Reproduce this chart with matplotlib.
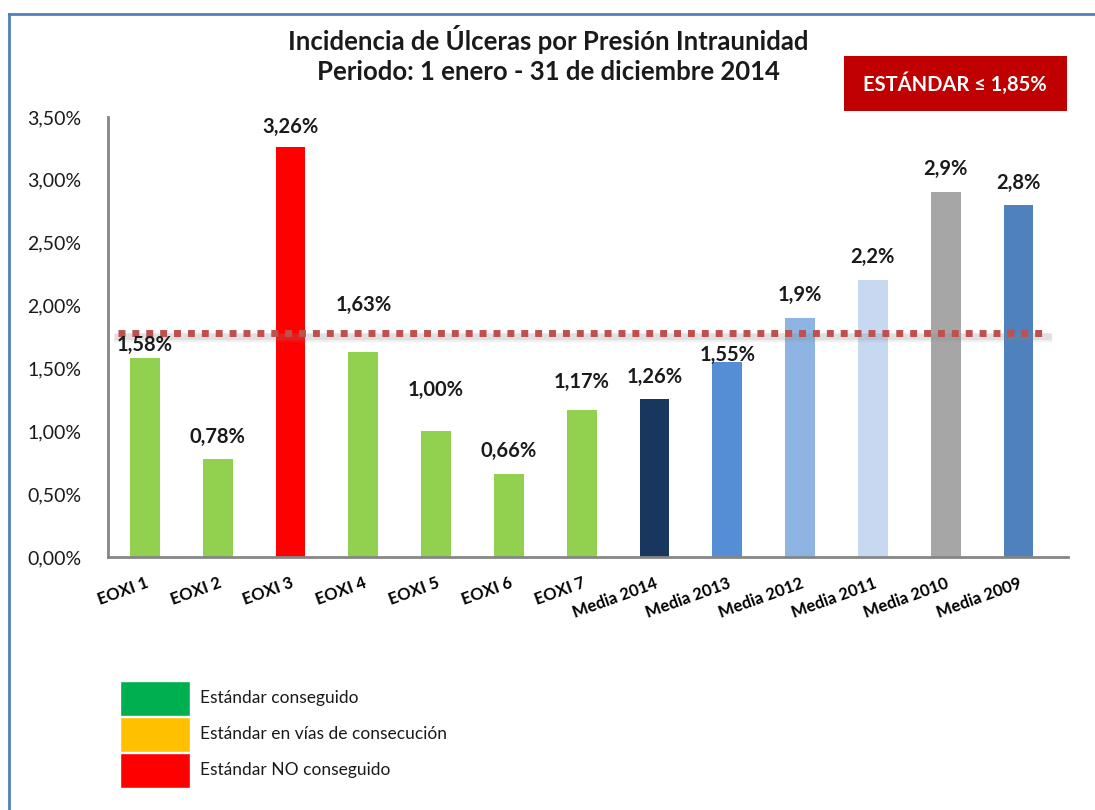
import matplotlib
matplotlib.use('Agg')
import matplotlib.pyplot as plt
from matplotlib.patches import Rectangle
from matplotlib.lines import Line2D

plt.rcParams['font.family'] = ['Lato', 'DejaVu Sans']

# datos
categorias = ['EOXI 1', 'EOXI 2', 'EOXI 3', 'EOXI 4', 'EOXI 5', 'EOXI 6', 'EOXI 7',
              'Media 2014', 'Media 2013', 'Media 2012', 'Media 2011', 'Media 2010', 'Media 2009']
valores = [1.58, 0.78, 3.26, 1.63, 1.00, 0.66, 1.17, 1.26, 1.55, 1.9, 2.2, 2.9, 2.8]
etiquetas = ['1,58%', '0,78%', '3,26%', '1,63%', '1,00%', '0,66%', '1,17%',
             '1,26%', '1,55%', '1,9%', '2,2%', '2,9%', '2,8%']
colores = ['#92D050', '#92D050', '#FF0000', '#92D050', '#92D050', '#92D050', '#92D050',
           '#17375E', '#558ED5', '#8EB4E3', '#C6D9F1', '#A6A6A6', '#4F81BD']
estandar_linea = 1.78
yticks = [0, 0.5, 1.0, 1.5, 2.0, 2.5, 3.0, 3.5]
ytick_labels = ['0,00%', '0,50%', '1,00%', '1,50%', '2,00%', '2,50%', '3,00%', '3,50%']
leyenda_txt = ['Estándar conseguido', 'Estándar en vías de consecución', 'Estándar NO conseguido']
leyenda_col = ['#00B050', '#FFC000', '#FF0000']

# separacion (px) de cada etiqueta sobre su barra, como en el original
sep_etiqueta = [13, 22, 20, 47, 41, 23, 28, 22, 7, 23, 23, 23, 22]

W, H = 1095, 810
fig = plt.figure(figsize=(W / 100, H / 100), dpi=100)
ax = fig.add_axes([108 / W, 1 - 557 / H, 960 / W, 440 / H])

x = list(range(len(categorias)))
ax.bar(x, valores, width=0.41, color=colores, zorder=2)

for xi, v, t, d in zip(x, valores, etiquetas, sep_etiqueta):
    ax.annotate(t, (xi, v), xytext=(0, d * 0.72), textcoords='offset points',
                ha='center', va='center', fontsize=14.5, fontweight='bold', color='#1a1a1a',
                zorder=5)

# linea del estandar con sombra
xs = [-0.37, 12.4]
ax.plot(xs, [estandar_linea - 0.04] * 2, color='#888888', lw=6, alpha=0.12, zorder=3)
ax.plot(xs, [estandar_linea - 0.025] * 2, color='#888888', lw=5, alpha=0.15, zorder=3)
ax.plot(xs, [estandar_linea] * 2, color='#C0504D', lw=5, linestyle=(0, (1, 1)), zorder=4)

ax.set_xlim(-0.508, 12.68)
ax.set_ylim(0, 3.5)
ax.set_yticks(yticks)
ax.set_yticklabels(ytick_labels, fontsize=14, color='#1a1a1a')
ax.set_xticks(x)
ax.set_xticklabels(categorias, rotation=20, ha='right', va='top', rotation_mode='anchor',
                   fontsize=12, fontweight='bold')
ax.tick_params(axis='y', length=0, pad=19)
ax.tick_params(axis='x', length=0, pad=13)
for s in ['top', 'right']:
    ax.spines[s].set_visible(False)
for s in ['left', 'bottom']:
    ax.spines[s].set_color('#868686')
    ax.spines[s].set_linewidth(2)

# titulo
fig.text(548 / W, 1 - 40 / H, 'Incidencia de Úlceras por Presión Intraunidad',
         ha='center', va='center', fontsize=18.5, fontweight='bold', color='#1a1a1a')
fig.text(548 / W, 1 - 72 / H, 'Periodo: 1 enero - 31 de diciembre 2014',
         ha='center', va='center', fontsize=18.5, fontweight='bold', color='#1a1a1a')

# caja estandar
fig.add_artist(Rectangle((844 / W, 1 - 111 / H), 223 / W, 55 / H,
                         transform=fig.transFigure, facecolor='#C00000', edgecolor='none'))
fig.text(955 / W, 1 - 84 / H, 'ESTÁNDAR ≤ 1,85%', ha='center', va='center',
         fontsize=14.5, fontweight='bold', color='white')

# marco azul
fig.add_artist(Line2D([9 / W, 1], [1 - 14 / H, 1 - 14 / H], transform=fig.transFigure,
                      color='#4F81BD', lw=2))
fig.add_artist(Line2D([9 / W, 9 / W], [0, 1 - 14 / H], transform=fig.transFigure,
                      color='#4F81BD', lw=2))

# leyenda
for i, (t, c) in enumerate(zip(leyenda_txt, leyenda_col)):
    y0 = 681 + i * 36
    fig.add_artist(Rectangle((120 / W, 1 - (y0 + 35) / H), 70 / W, 35 / H,
                             transform=fig.transFigure, facecolor=c, edgecolor='white', lw=1))
    fig.text(200 / W, 1 - (y0 + 17) / H, t, ha='left', va='center', fontsize=12.5, color='#1a1a1a')

fig.savefig('out.png', dpi=100)
